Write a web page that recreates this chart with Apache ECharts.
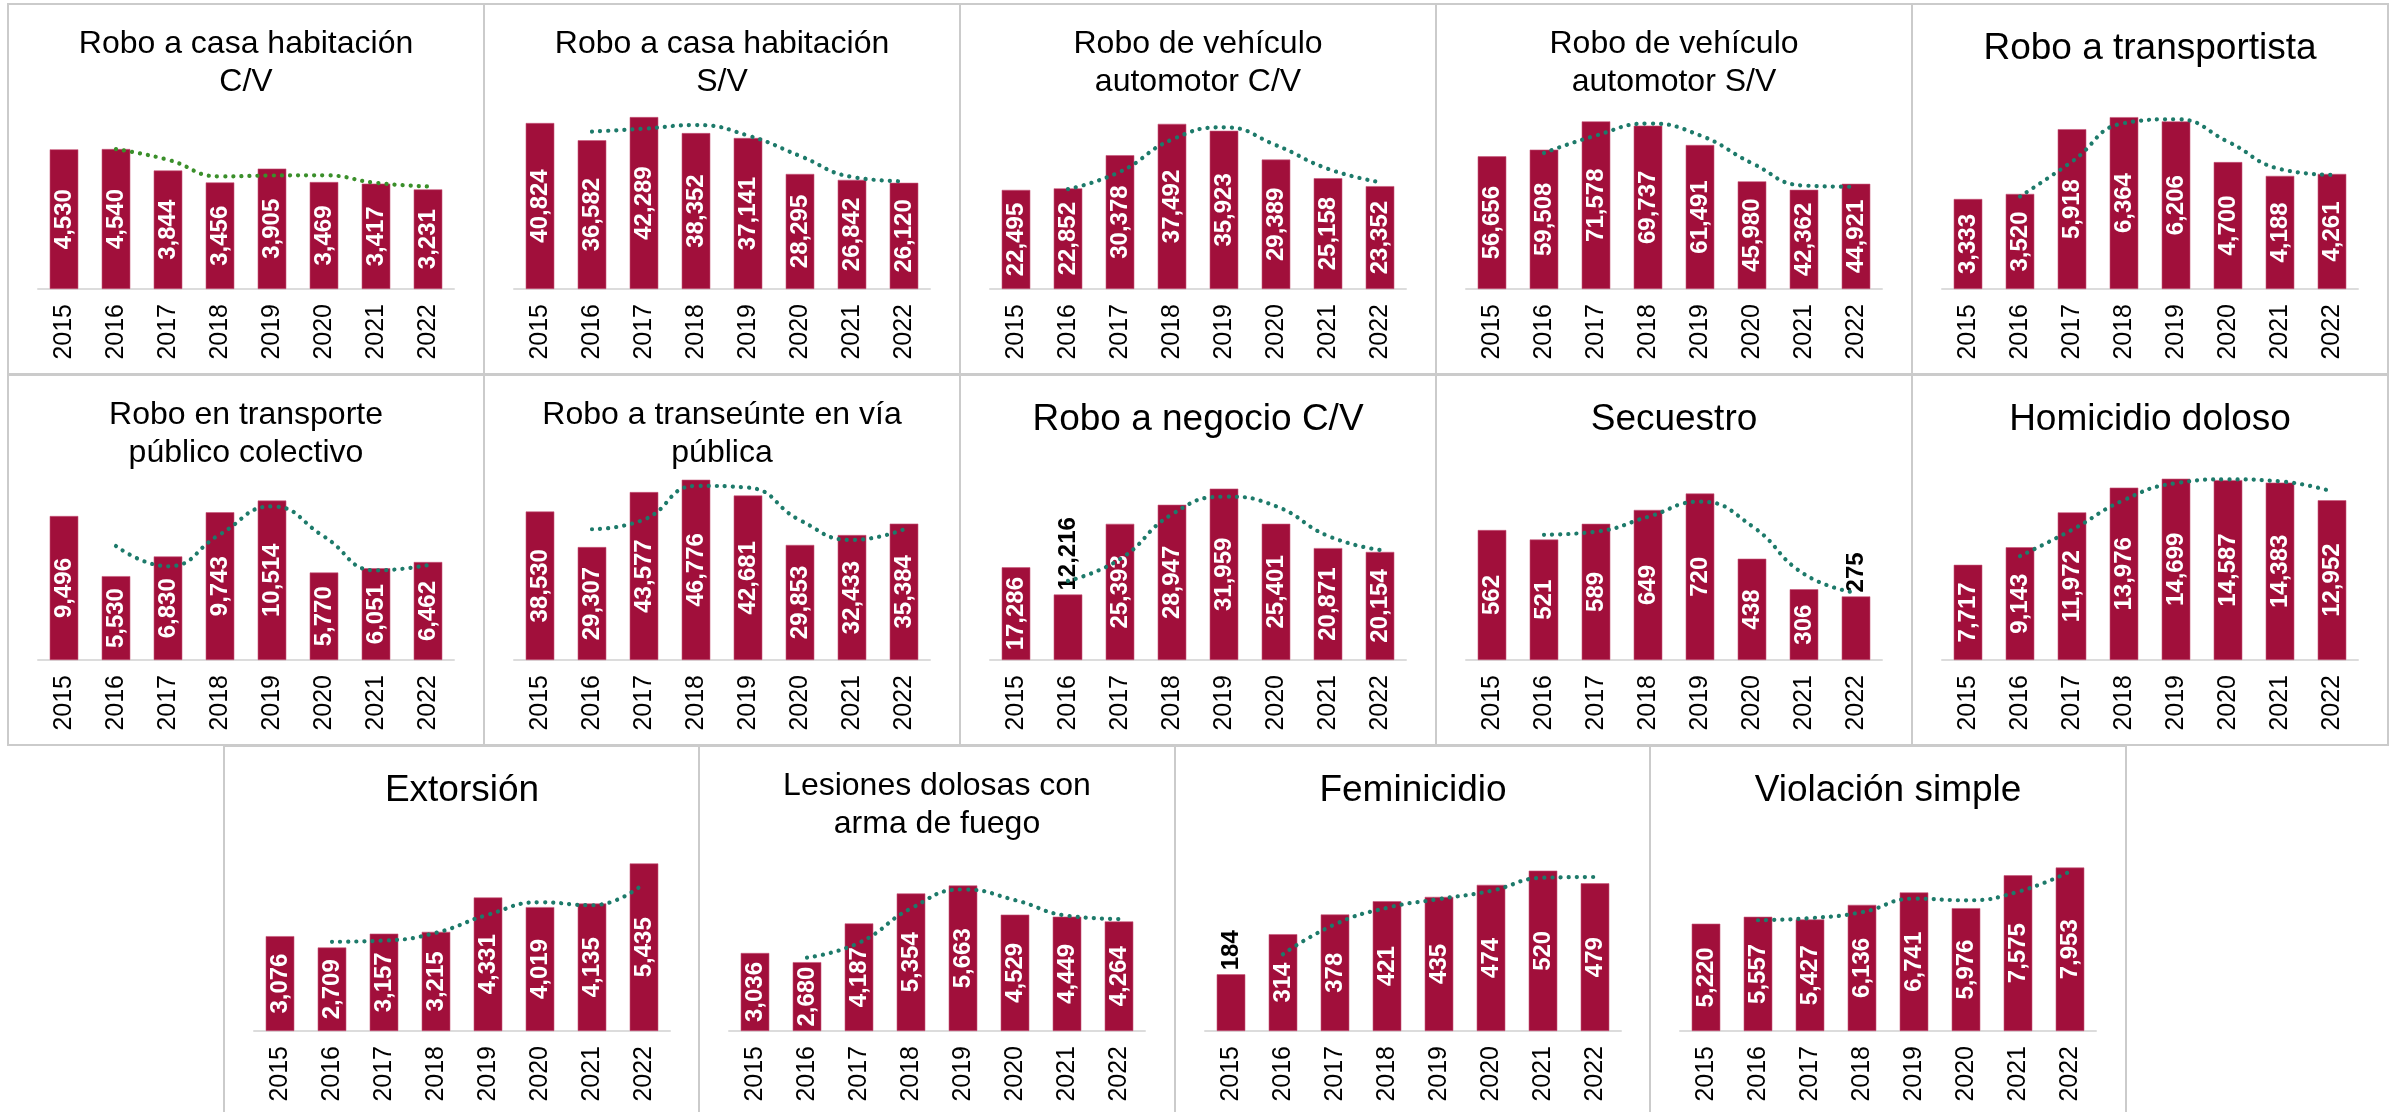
<!DOCTYPE html>
<html>
<head>
<meta charset="utf-8">
<script src="https://cdn.jsdelivr.net/npm/echarts@6/dist/echarts.min.js"></script>
<style>
html, body {
  margin: 0;
  background: #fff;
  width: 2392px;
  height: 1112px;
  overflow: hidden;
}
.panel {
  position: absolute;
  box-sizing: border-box;
  width: 478px;
  height: 372px;
  border: 2px solid #cbcbcb;
  background: #fff;
}
.chart {
  width: 100%;
  height: 100%;
}
</style>
</head>
<body>
<script>
const years = ["2015", "2016", "2017", "2018", "2019", "2020", "2021", "2022"];

const casaCV = [4530, 4540, 3844, 3456, 3905, 3469, 3417, 3231];
const casaSV = [40824, 36582, 42289, 38352, 37141, 28295, 26842, 26120];
const vehiculoCV = [22495, 22852, 30378, 37492, 35923, 29389, 25158, 23352];
const vehiculoSV = [56656, 59508, 71578, 69737, 61491, 45980, 42362, 44921];
const transportista = [3333, 3520, 5918, 6364, 6206, 4700, 4188, 4261];
const transportePublico = [9496, 5530, 6830, 9743, 10514, 5770, 6051, 6462];
const transeunte = [38530, 29307, 43577, 46776, 42681, 29853, 32433, 35384];
const negocioCV = [17286, 12216, 25393, 28947, 31959, 25401, 20871, 20154];
const secuestro = [562, 521, 589, 649, 720, 438, 306, 275];
const homicidio = [7717, 9143, 11972, 13976, 14699, 14587, 14383, 12952];
const extorsion = [3076, 2709, 3157, 3215, 4331, 4019, 4135, 5435];
const lesiones = [3036, 2680, 4187, 5354, 5663, 4529, 4449, 4264];
const feminicidio = [184, 314, 378, 421, 435, 474, 520, 479];
const violacion = [5220, 5557, 5427, 6136, 6741, 5976, 7575, 7953];

const titles = [
  "Robo a casa habitación\nC/V",
  "Robo a casa habitación\nS/V",
  "Robo de vehículo\nautomotor C/V",
  "Robo de vehículo\nautomotor S/V",
  "Robo a transportista",
  "Robo en transporte\npúblico colectivo",
  "Robo a transeúnte en vía\npública",
  "Robo a negocio C/V",
  "Secuestro",
  "Homicidio doloso",
  "Extorsión",
  "Lesiones dolosas con\narma de fuego",
  "Feminicidio",
  "Violación simple",
];
const values = [
  casaCV, casaSV, vehiculoCV, vehiculoSV, transportista,
  transportePublico, transeunte, negocioCV, secuestro, homicidio,
  extorsion, lesiones, feminicidio, violacion,
];
const yMax = [6000, 45500, 42000, 79000, 6850, 12200, 48000, 34500, 800, 15000, 6000, 7200, 600, 9000];
// bar whose value label sits above the bar (index per chart, -1 = none)
const labelAbove = [-1, -1, -1, -1, -1, -1, -1, 1, 7, -1, -1, -1, 0, -1];

const FONT = '"Liberation Sans", Arial, Helvetica, sans-serif';
const barColor = "#A10F3B";

// 2-period moving average trend line
const movingAvg = (arr) => arr.map((v, i) => (i === 0 ? null : (v + arr[i - 1]) / 2));

const panelPos = (i) => {
  if (i < 5) return [7 + 476 * i, 3];
  if (i < 10) return [7 + 476 * (i - 5), 374];
  return [223 + 475.3 * (i - 10), 745];
};

values.forEach((vals, i) => {
  const pos = panelPos(i);
  const panel = document.createElement("div");
  panel.className = "panel";
  panel.style.left = pos[0] + "px";
  panel.style.top = pos[1] + "px";
  const el = document.createElement("div");
  el.className = "chart";
  panel.appendChild(el);
  document.body.appendChild(panel);

  const twoLines = titles[i].indexOf("\n") >= 0;
  const barData = vals.map((v, j) => {
    if (j !== labelAbove[i]) return v;
    return {
      value: v,
      label: {
        position: "top",
        color: "#000",
        align: "left",
        verticalAlign: "middle",
        distance: 4,
      },
    };
  });

  let myChart = echarts.init(el);
  myChart.setOption({
    animation: false,
    title: {
      text: titles[i],
      left: "center",
      top: twoLines ? 20 : 25,
      padding: 0,
      textStyle: {
        fontFamily: FONT,
        fontWeight: "normal",
        color: "#000",
        fontSize: twoLines ? 32 : 37,
        lineHeight: twoLines ? 38 : 37,
      },
    },
    grid: { left: 29, right: 29, top: 99, height: 185, outerBoundsMode: "none" },
    xAxis: {
      type: "category",
      data: years,
      axisLine: { lineStyle: { color: "#dcdcdc", width: 2 } },
      axisTick: { show: false },
      axisLabel: {
        rotate: 90,
        fontFamily: FONT,
        fontSize: 25,
        color: "#000",
        margin: 15,
        interval: 0,
      },
    },
    yAxis: { type: "value", min: 0, max: yMax[i], show: false },
    series: [
      {
        type: "bar",
        data: barData,
        barWidth: "55%",
        itemStyle: { color: barColor, borderColor: "#c7587a", borderWidth: 0.6 },
        label: {
          show: true,
          position: "inside",
          rotate: 90,
          color: "#fff",
          fontFamily: FONT,
          fontWeight: "bold",
          fontSize: 24,
          formatter: (p) => p.value.toLocaleString("en-US"),
        },
      },
      {
        type: "line",
        data: movingAvg(vals),
        smooth: true,
        symbol: "none",
        z: 3,
        lineStyle: {
          color: i === 0 ? "#3a8f2a" : "#1d7a6a",
          width: 4.2,
          type: [0.1, 8],
          cap: "round",
        },
      },
    ],
  });
});
</script>
</body>
</html>
